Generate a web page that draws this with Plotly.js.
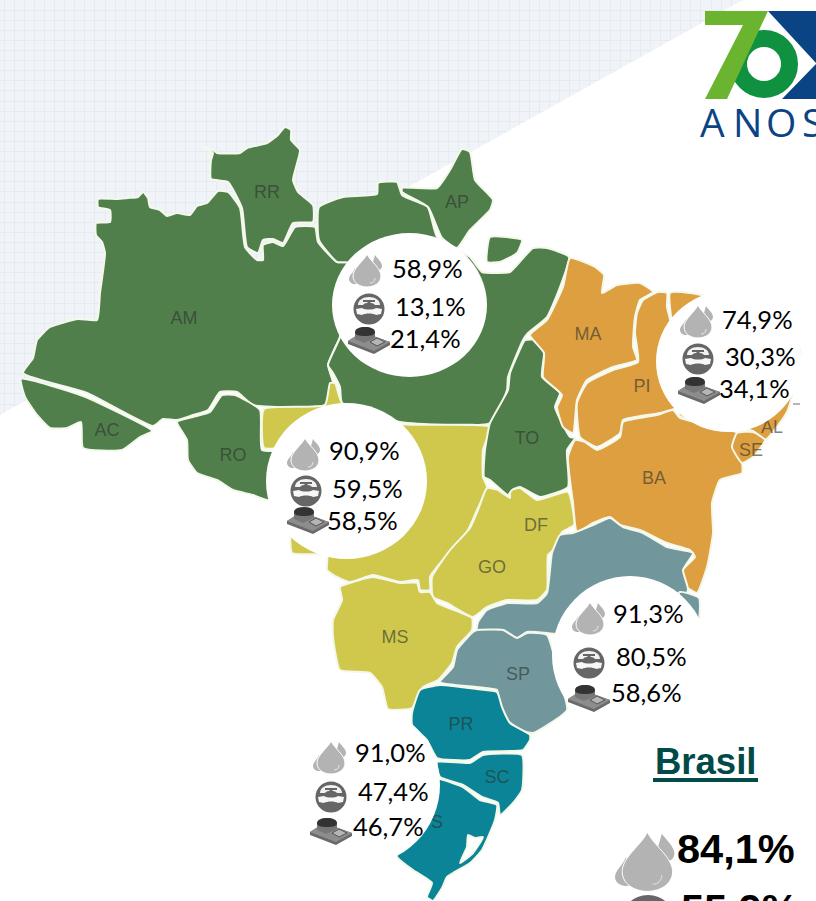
<!DOCTYPE html>
<html><head><meta charset="utf-8">
<script src="https://cdn.plot.ly/plotly-3.0.1.min.js"></script>
<style>html,body{margin:0;padding:0;background:#fff;overflow:hidden}#chart{width:816px;height:901px}</style>
</head><body><div id="chart"></div>
<script>
// ---- data -------------------------------------------------------------
const regions   = ['Norte','Nordeste','Centro-Oeste','Sudeste','Sul','Brasil'];
const agua      = ['58,9%','74,9%','90,9%','91,3%','91,0%','84,1%'];
const coleta    = ['13,1%','30,3%','59,5%','80,5%','47,4%','55,9%'];
const tratamento= ['21,4%','34,1%','58,5%','58,6%','46,7%'];

const labelNames = ['AM','RR','AP','AC','RO','TO','MA','PI','BA','AL','SE','DF','GO','MS','SP','PR','SC','S'];
const labelX     = [184,267,457,107,233,527,588,642,654,772,751,536,492,395,518,461,497,437];
const labelY     = [319,193,203,431,456,439,335,387,479,428,451,526,568,638,675,725,778,823];

const AM=[[23,373],[33,358],[37,340],[50,327],[78,319],[97,320],[100,293],[105,253],[102,242],[96,235],[96,223],[110,222],[110,210],[98,207],[98,199],[117,199],[128,198],[138,197],[143,192],[148,198],[150,207],[160,210],[167,216],[177,213],[190,215],[197,206],[207,203],[218,191],[228,192],[240,208],[245,247],[257,260],[263,260],[263,245],[273,242],[283,246],[295,227],[315,227],[318,242],[337,262],[350,263],[345,320],[340,337],[328,365],[333,383],[325,405],[253,405],[237,392],[220,392],[208,410],[193,415],[177,420],[163,419],[153,426],[87,393]];
const AC=[[21,379],[83,396],[152,431],[140,437],[122,450],[83,448],[81,422],[67,428],[50,428],[37,415],[25,397]];
const RR=[[203,147],[213,150],[217,153],[240,153],[247,148],[267,143],[278,135],[285,127],[291,130],[291,140],[300,150],[293,180],[298,192],[313,205],[313,222],[293,223],[283,243],[273,239],[263,240],[258,253],[247,247],[242,208],[228,182],[211,179],[211,160],[213,153]];
const PA=[[319,207],[343,197],[377,194],[378,183],[397,182],[402,195],[420,203],[428,207],[437,237],[457,250],[470,257],[482,272],[497,273],[510,272],[533,248],[547,248],[569,257],[560,287],[547,317],[528,333],[523,340],[508,377],[507,390],[490,423],[400,422],[342,403],[340,387],[333,373],[328,365],[340,337],[350,263],[337,262],[319,240]];
const Marajo=[[490,237],[522,240],[517,253],[500,262],[487,262]];
const AP=[[402,188],[437,188],[450,170],[462,149],[470,152],[475,180],[493,200],[490,210],[470,230],[457,248],[442,238],[428,207],[402,192]];
const RO=[[177,422],[193,417],[210,412],[222,395],[235,395],[260,410],[262,450],[290,452],[290,500],[267,500],[253,495],[233,490],[217,480],[197,473],[188,460],[187,440]];
const MT=[[264,409],[325,405],[330,383],[335,383],[342,403],[400,424],[490,427],[483,450],[483,477],[487,487],[477,510],[467,532],[437,567],[430,577],[430,590],[420,590],[418,580],[400,582],[373,575],[350,582],[337,577],[327,570],[327,555],[292,553],[290,520],[285,490],[285,449],[264,448]];
const GO=[[487,488],[498,490],[510,498],[510,490],[520,488],[537,500],[568,492],[574,525],[562,532],[557,547],[548,555],[547,590],[537,600],[507,600],[487,607],[473,617],[447,603],[433,597],[432,577],[450,550],[470,528],[478,510]];
const TO=[[525,340],[538,340],[544,353],[542,377],[560,393],[555,407],[570,437],[575,438],[567,450],[568,487],[540,497],[520,487],[512,490],[508,495],[490,480],[484,477],[485,450],[490,423],[508,390],[510,373],[523,343]];
const MA=[[570,258],[595,267],[604,275],[602,293],[617,285],[640,283],[653,292],[640,300],[635,317],[633,347],[637,360],[613,367],[587,380],[577,400],[573,433],[563,427],[557,407],[562,395],[543,377],[544,353],[530,335],[547,320],[563,287]];
const PI=[[658,292],[667,293],[667,307],[680,360],[677,407],[660,413],[623,420],[620,433],[597,447],[580,437],[577,403],[587,383],[613,370],[638,362],[635,333],[637,313],[643,300]];
const CE=[[670,293],[690,293],[760,310],[800,350],[787,412],[765,440],[753,431],[720,425],[680,416],[677,360]];
const SE=[[737,433],[753,432],[765,440],[753,457],[742,463],[732,447]];
const BA=[[575,440],[585,442],[597,450],[620,437],[623,422],[657,415],[673,410],[680,418],[720,428],[737,433],[732,447],[742,463],[742,473],[720,480],[712,503],[713,533],[707,567],[697,593],[687,587],[683,570],[695,557],[690,550],[667,543],[640,530],[620,525],[610,517],[593,523],[577,532],[573,503],[568,457]];
const MG=[[552,553],[560,535],[573,533],[593,525],[610,518],[623,527],[643,533],[667,547],[693,553],[683,570],[688,590],[670,620],[640,650],[600,640],[547,633],[527,632],[517,638],[503,630],[477,630],[478,622],[487,610],[508,603],[537,603],[547,593]];
const ES=[[680,592],[699,598],[698,622],[660,622]];
const SP=[[477,630],[503,630],[517,638],[527,633],[547,635],[560,680],[567,710],[533,733],[520,730],[507,720],[500,707],[497,690],[477,687],[440,682],[453,667],[457,650],[473,632]];
const MS=[[340,587],[350,583],[373,577],[400,583],[417,583],[420,592],[430,592],[437,603],[472,618],[472,630],[457,647],[452,663],[438,680],[423,687],[412,708],[388,709],[382,687],[370,673],[340,670],[333,637],[333,620],[342,600]];
const PR=[[420,690],[440,685],[477,689],[497,692],[502,707],[510,723],[530,735],[530,740],[523,750],[483,752],[470,760],[437,758],[427,740],[412,725],[412,713]];
const SC=[[437,762],[470,763],[483,755],[522,755],[522,790],[513,803],[500,815],[498,803],[482,797],[463,785],[440,777]];
const RS=[[400,775],[440,779],[463,787],[480,800],[497,805],[495,820],[482,850],[470,863],[453,873],[447,877],[442,888],[433,901],[427,897],[432,883],[413,870],[397,857]];
const Lagoa=[[468,835],[475,838],[483,837],[473,853],[460,863],[467,847]];

const N_COLOR='#507f4c', NE_COLOR='#dd9f3f', CO_COLOR='#d0c84c', SE_COLOR='#71979d', S_COLOR='#0a8496';
const statePolys=[
 [AM,N_COLOR],[AC,N_COLOR],[RR,N_COLOR],[PA,N_COLOR],[Marajo,N_COLOR],[AP,N_COLOR],[RO,N_COLOR],[MT,CO_COLOR],[GO,CO_COLOR],[TO,N_COLOR],
 [MA,NE_COLOR],[CE,NE_COLOR],[PI,NE_COLOR],[BA,NE_COLOR],[SE,NE_COLOR],
 [MG,SE_COLOR],[ES,SE_COLOR],[SP,SE_COLOR],[MS,CO_COLOR],[PR,S_COLOR],[SC,S_COLOR],[RS,S_COLOR],[Lagoa,'#ffffff']];

// ---- layout helpers ----------------------------------------------------
const W=816,H=901;
const traces=[];
traces.push({type:'scatter',mode:'lines',x:[743,816,816,0,0,743],y:[0,0,901,901,415,0],fill:'toself',fillcolor:'#ffffff',line:{width:0,color:'#ffffff'},hoverinfo:'skip',showlegend:false});
statePolys.forEach(([p,c])=>{
  const xs=p.map(q=>q[0]).concat(p[0][0]), ys=p.map(q=>q[1]).concat(p[0][1]);
  traces.push({type:'scatter',mode:'lines',x:xs,y:ys,fill:'toself',fillcolor:c,line:{color:'#f3f8ea',width:2,shape:'spline',smoothing:0.45},hoverinfo:'skip',showlegend:false});
});
traces.push({type:'scatter',mode:'text',x:labelX,y:labelY,text:labelNames,textposition:'middle center',
  textfont:{family:'"Liberation Sans",Arial,sans-serif',size:18,color:'rgba(45,50,45,0.62)'},hoverinfo:'skip',showlegend:false});

function tf(d,x,y,s){return d.replace(/(-?[\d.]+),(-?[\d.]+)/g,(m,a,b)=>(x+a*s).toFixed(2)+','+(y+b*s).toFixed(2));}
const shapes=[];
function path(d,x,y,s,fill,lw,lc){shapes.push({type:'path',xref:'x',yref:'y',path:tf(d,x,y,s),fillcolor:fill,line:{width:lw||0,color:lc||fill}});}
function oval(x0,y0,x1,y1,fill,lw,lc){shapes.push({type:'circle',xref:'x',yref:'y',x0,y0,x1,y1,fillcolor:fill,line:{width:lw||0,color:lc||fill}});}

function drop(x,y,s){
  path('M6,14 C7,18 12,21 12,25 C12,28 9,30 6,30 C3,30 0,28 0,25 C0,21 5,18 6,14Z',x,y,s,'#b3b3b3');
  path('M26,1 C28,4 33,8 33,12 C33,15 30,17 28,16 L24,8Z',x,y,s,'#b3b3b3');
  path('M18,0 C21,7 32,14 32,22 C32,29 25,33 18,33 C11,33 4,29 4,22 C4,14 15,7 18,0Z',x,y,s,'#b3b3b3',1,'#ffffff');
  path('M26,24 C26,27 24,29 21,29',x,y,s,'rgba(0,0,0,0)',1,'#e6e6e6');
}
function faucet(cx,cy,s){
  oval(cx-15.5*s,cy-15.5*s,cx+15.5*s,cy+15.5*s,'#666666');
  path('M-11,-4 C-11,-9 -6,-12 0,-12 C6,-12 11,-9 11,-4 L6,-4 C4,-7 -4,-7 -6,-4Z',cx,cy,s,'#f2f2f2');
  path('M-6,-9 L6,-9 L6,-7 L1.5,-7 L1.5,-4 L-1.5,-4 L-1.5,-7 L-6,-7Z',cx,cy,s,'#666666');
  path('M-13,0 L-7,-1 C-4,1 4,1 7,-1 L13,0 L12,5 L7,6 C4,4 -4,4 -7,6 L-12,5Z',cx,cy,s,'#f7f7f7');
}
function sewer(x,y,s){
  path('M0,14 L14,5 L42,15 L42,18 L26,27 L0,17Z',x,y,s,'#6a6a6a');
  path('M0,14 L14,5 L42,15 L26,24Z',x,y,s,'#8d8d8d');
  path('M7,5 L7,12 L16,16 L27,11 L27,5Z',x,y,s,'#777777');
  path('M7,5 C7,2 11,0 17,0 C23,0 27,2 27,5 C27,8 23,9 17,9 C11,9 7,8 7,5Z',x,y,s,'#333333');
  path('M22,15 L29,11 L37,15 L29,19Z',x,y,s,'#b5b5b5',1,'#555555');
}

// white bubbles
[[332,233,487,377],[266,403,427,559],[656,291,801,432],[552,576,708,734],[280,705,440,865]].forEach(b=>oval(b[0],b[1],b[2],b[3],'#ffffff'));

// small artefact beyond the NE bubble
shapes.push({type:'rect',xref:'x',yref:'y',x0:793,x1:800,y0:403,y1:405,fillcolor:'#b5b5b5',line:{width:0}});

// logo
oval(738.5,38.5,789.5,89.5,'#ffffff',17,'#0f9140');
path('M705,11 L768,11 L727,99 L705,99 L743,25 L705,25Z',0,0,1,'#6ab42f');
path('M768,11 L816,11 L816,63Z',0,0,1,'#0a4485');
path('M816,64 L816,99 L782,99Z',0,0,1,'#0a4485');

// icons of each group
const dropPos  =[[349,254],[680,305],[287,438],[572,602],[313,741]];
const faucetPos=[[369,309],[698,359],[306,491],[589,663],[331,797]];
const sewerPos =[[348,327],[678,377],[287,507],[568,685],[310,818]];
dropPos.forEach(p=>drop(p[0],p[1],1));
faucetPos.forEach(p=>faucet(p[0],p[1],1));
sewerPos.forEach(p=>sewer(p[0],p[1],1));
drop(615,832,1.8);
faucet(648,922,1.75);

// Brasil underline
shapes.push({type:'rect',xref:'x',yref:'y',x0:653,x1:758,y0:778,y1:782,fillcolor:'#004a48',line:{width:0}});

const annotations=[];
function note(t,x,y,size,color,family,weight){
  annotations.push({text:t,xref:'x',yref:'y',x,y,xanchor:'left',yanchor:'middle',showarrow:false,borderpad:0,
    font:{family:family||'Lato, sans-serif',size,color:color||'#000000',weight:weight||400}});
}
const aguaPos =[[391,268],[721,319],[328,450],[612,613],[354,752]];
const coletaPos=[[394,306],[724,356],[331,488],[615,656],[357,791]];
const tratPos =[[389,338],[718,388],[326,520],[610,692],[352,826]];
aguaPos.forEach((p,i)=>note(agua[i],p[0],p[1],25.5));
coletaPos.forEach((p,i)=>note(coleta[i],p[0],p[1],25.5));
tratPos.forEach((p,i)=>note(tratamento[i],p[0],p[1],25.5));

const ARIAL='"Liberation Sans",Arial,sans-serif';
note(regions[5],654,761,36.5,'#004a48',ARIAL,700);
note(agua[5],676,848,41.5,'#000000',ARIAL,700);
annotations.push({text:coleta[5],xref:'paper',yref:'paper',x:680/W,y:1-908/H,xanchor:'left',yanchor:'middle',showarrow:false,borderpad:0,
  font:{family:ARIAL,size:41.5,color:'#000000',weight:700}});

// ANOS letters
['A','N','O','S'].forEach((c,i)=>note(c,[699,732,765,801][i],121,39,'#0a4485','"Open Sans", sans-serif'));

const axis={showgrid:true,gridcolor:'#e6ebf2',gridwidth:1,zeroline:false,showline:false,ticks:'',showticklabels:false,fixedrange:true};
const layout={width:W,height:H,margin:{l:0,r:0,t:0,b:0,pad:0},paper_bgcolor:'#ffffff',plot_bgcolor:'#f0f4f8',showlegend:false,
  xaxis:Object.assign({range:[0,W],tick0:4,dtick:10.1},axis),
  yaxis:Object.assign({range:[H,0],tick0:0,dtick:10.1},axis),
  shapes,annotations};
Plotly.newPlot('chart',traces,layout,{displayModeBar:false,staticPlot:true});
</script></body></html>
